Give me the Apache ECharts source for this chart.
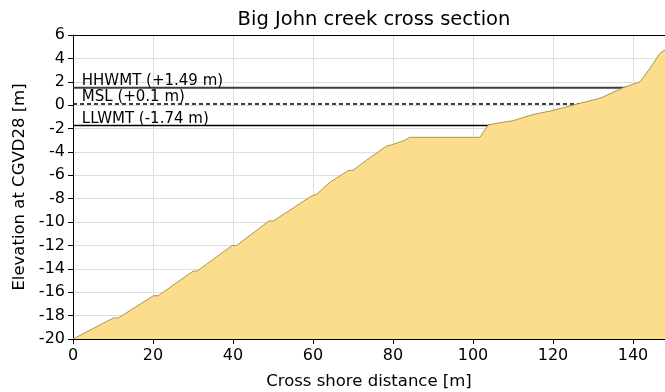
<!DOCTYPE html>
<html>
<head>
<meta charset="utf-8">
<script src="https://cdn.jsdelivr.net/npm/echarts@6/dist/echarts.min.js"></script>
<style>
  html, body { margin: 0; padding: 0; background: #fff; }
  #chart { width: 665px; height: 392px; }
</style>
</head>
<body>
<div id="chart"></div>
<script>
// Surveyed bed profile: distance along the transect [m] and elevation [m, CGVD28]
const distance = [0, 10.1, 11.3, 20.1, 21.3, 30.0, 31.0, 39.8, 40.9, 49.0, 50.1, 59.5, 61.0, 64.2,
  68.8, 70.1, 73.4, 78.4, 79.6, 83.0, 84.1, 101.75, 103.8, 106.75, 110.0, 115.0, 120.0,
  126.75, 131.75, 137.6, 141.75, 144.25, 146.75, 148.0];
const elevation = [-20.0, -18.2, -18.2, -16.3, -16.3, -14.2, -14.2, -12.0, -12.0, -9.9, -9.9, -7.8, -7.6, -6.6,
  -5.6, -5.55, -4.7, -3.5, -3.4, -3.0, -2.75, -2.75, -1.7, -1.5, -1.33, -0.8, -0.45,
  0.16, 0.59, 1.5, 2.0, 3.16, 4.44, 4.72];

// Tidal datums
const datumNames = ['HHWMT (+1.49 m)', 'MSL (+0.1 m)', 'LLWMT (-1.74 m)'];
const datumLevels = [1.49, 0.1, -1.74];

const xTicks = [0, 20, 40, 60, 80, 100, 120, 140];
const yTicks = [-20, -18, -16, -14, -12, -10, -8, -6, -4, -2, 0, 2, 4, 6];

const xMin = 0, xMax = 148;

const FONT = 'DejaVu Sans';
const chart = echarts.init(document.getElementById('chart'), null, { renderer: 'canvas' });

const datumStyles = [
  { color: '#3c3c3c', width: 1.8, type: 'solid' },
  { color: '#000', width: 1.3, type: [4, 3] },
  { color: '#000', width: 1.3, type: 'solid' }
];

const datumSeries = datumLevels.map((lvl, i) => ({
  type: 'line',
  name: datumNames[i],
  data: [[xMin, lvl], [xMax, lvl]],
  symbol: 'none',
  silent: true,
  z: 2,
  lineStyle: datumStyles[i]
}));

chart.setOption({
  animation: false,
  title: {
    text: 'Big John creek cross section',
    left: 369, top: 5, textAlign: 'center',
    textStyle: { fontFamily: FONT, fontSize: 19.5, fontWeight: 'normal', color: '#000' }
  },
  grid: { left: 73, right: 0, top: 35, bottom: 53, outerBoundsMode: 'none', containLabel: false },
  xAxis: [{
    type: 'value', min: xMin, max: xMax, interval: 20,
    name: 'Cross shore distance [m]', nameLocation: 'middle', nameGap: 34,
    nameTextStyle: { fontFamily: FONT, fontSize: 16.5, color: '#000' },
    axisLine: { show: true, onZero: false, lineStyle: { color: '#000', width: 1 } },
    axisTick: { show: true, inside: false, length: 5, lineStyle: { color: '#000' } },
    axisLabel: {
      fontFamily: FONT, fontSize: 16, color: '#000', margin: 9,
      showMaxLabel: false,
      formatter: v => xTicks.includes(v) ? String(v) : ''
    },
    splitLine: { show: true, lineStyle: { color: '#dedede', width: 1 } }
  }, {
    // top frame line
    type: 'value', position: 'top', min: xMin, max: xMax,
    axisLine: { show: true, onZero: false, lineStyle: { color: '#000', width: 1 } },
    axisTick: { show: false }, axisLabel: { show: false }, splitLine: { show: false }
  }],
  yAxis: {
    type: 'value', min: -20, max: 6, interval: 2,
    name: 'Elevation at CGVD28 [m]', nameLocation: 'middle', nameGap: 42,
    nameTextStyle: { fontFamily: FONT, fontSize: 16.5, color: '#000' },
    axisLine: { show: true, onZero: false, lineStyle: { color: '#000', width: 1 } },
    axisTick: { show: true, inside: false, length: 5, lineStyle: { color: '#000' } },
    axisLabel: {
      fontFamily: FONT, fontSize: 16, color: '#000', margin: 8,
      formatter: v => yTicks.includes(v) ? String(v) : ''
    },
    splitLine: { show: true, lineStyle: { color: '#dedede', width: 1 } }
  },
  series: [
    ...datumSeries,
    {
      type: 'line',
      name: 'profile',
      data: distance.map((d, i) => [d, elevation[i]]),
      symbol: 'none',
      silent: true,
      z: 5,
      lineStyle: { color: '#a08a50', width: 0.9 },
      areaStyle: { color: '#fbdd8c', opacity: 1, origin: 'start' }
    },
    {
      // datum labels written just above each level, near the left edge
      type: 'scatter',
      name: 'datum labels',
      data: datumLevels.map((lvl, i) => ({ value: [2.2, lvl], name: datumNames[i] })),
      symbolSize: 0,
      silent: true,
      z: 6,
      itemStyle: { opacity: 1 },
      label: {
        show: true, position: [0, 1],
        formatter: p => p.name,
        fontFamily: FONT, fontSize: 15, color: '#000', opacity: 1,
        textBorderWidth: 0, textShadowBlur: 0,
        align: 'left', verticalAlign: 'bottom'
      }
    }
  ]
});
</script>
</body>
</html>
